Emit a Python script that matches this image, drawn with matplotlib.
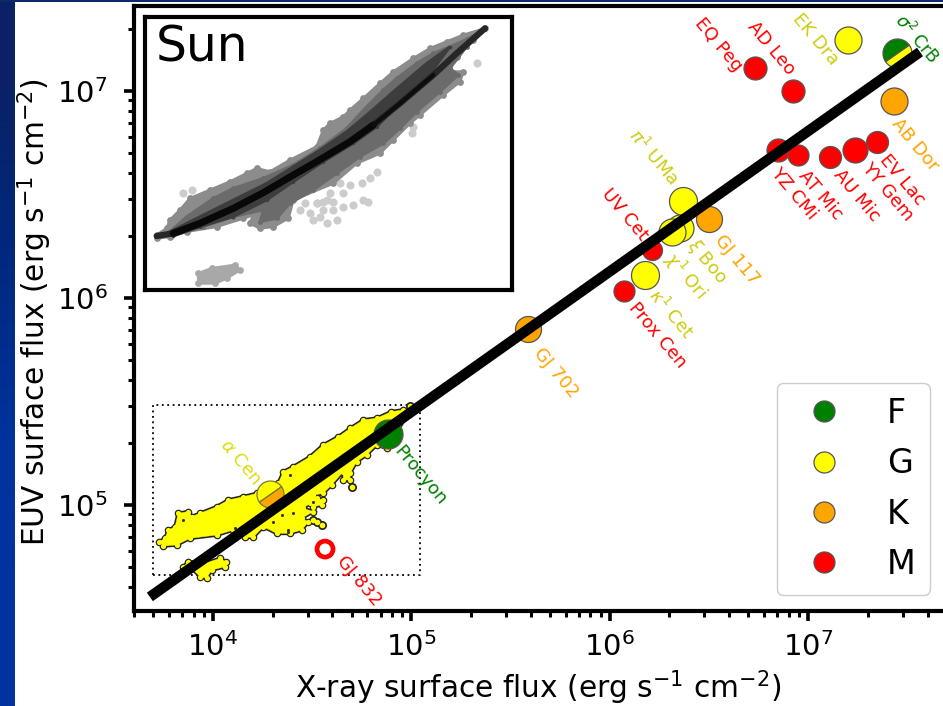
import numpy as np
import matplotlib
matplotlib.use("Agg")
import matplotlib.pyplot as plt
from matplotlib.markers import MarkerStyle
from matplotlib.transforms import Affine2D
from matplotlib.lines import Line2D
from matplotlib.ticker import LogLocator, NullFormatter

# ---------- data (log10 flux) ----------
star_names = ["EQ Peg", "AD Leo", "EK Dra", "AB Dor", "YZ CMi", "AT Mic", "AU Mic", "YY Gem", "EV Lac",
              r"$\pi^1$ UMa", "GJ 117", r"$\xi$ Boo", r"$\chi^1$ Ori", "UV Cet", r"$\kappa^1$ Cet",
              "Prox Cen", "GJ 702", "Procyon"]
star_lx = [6.732, 6.923, 7.201, 7.432, 6.848, 6.949, 7.110, 7.236, 7.347,
           6.369, 6.500, 6.354, 6.313, 6.213, 6.177, 6.072, 5.588, 4.882]
star_ly = [7.111, 7.000, 7.246, 6.952, 6.715, 6.691, 6.681, 6.715, 6.754,
           6.469, 6.382, 6.338, 6.319, 6.232, 6.111, 6.034, 5.850, 5.343]
star_type = ["M", "M", "G", "K", "M", "M", "M", "M", "M", "G", "K", "G", "G", "M", "G", "M", "K", "F"]
star_diam = [23, 23, 27, 27, 23, 21, 22, 25, 22, 28, 26, 27, 27, 20, 28, 21, 26, 29]
label_side = ["right", "right", "right", "left", "left", "left", "left", "left", "left",
              "right", "left", "left", "left", "right", "left", "left", "left", "left"]
label_off = [(-16, -1), (-1, 18), (-13, -23), (1, -20), (-4, -20), (4, -18), (7, -15), (10, -15), (6, -15),
             (-8, 18), (9, -18), (10, -14), (-4, -23), (-7, 12), (7, -17), (8, -14), (9, -21), (9, -14)]

type_names = ["F", "G", "K", "M"]
type_colors = {"F": "green", "G": "yellow", "K": "orange", "M": "red"}
label_colors = {"F": "green", "G": "#cccc11", "K": "orange", "M": "red"}

fit_lx = [3.682, 7.564]
fit_ly = [4.556, 7.188]

yellow_lx = [3.730, 3.758, 3.775, 3.809, 3.825, 3.876, 3.893, 3.935, 4.019, 4.077, 4.153, 4.220, 4.271, 4.329,
             4.355, 4.405, 4.489, 4.556, 4.632, 4.691, 4.758, 4.825, 4.900, 4.959, 4.985, 4.875, 4.825, 4.775,
             4.724, 4.691, 4.691, 4.657, 4.657, 4.598, 4.556, 4.506, 4.522, 4.556, 4.548, 4.506, 4.489, 4.455,
             4.506, 4.447, 4.481, 4.447, 4.388, 4.321, 4.254, 4.203, 4.161, 4.144, 4.103, 4.019, 3.884, 3.817,
             3.750]
yellow_ly = [4.823, 4.839, 4.879, 4.895, 4.960, 4.968, 4.944, 4.960, 4.992, 5.024, 5.040, 5.056, 5.097, 5.105,
             5.161, 5.185, 5.233, 5.290, 5.330, 5.370, 5.411, 5.419, 5.451, 5.459, 5.443, 5.274, 5.290, 5.242,
             5.209, 5.153, 5.121, 5.121, 5.161, 5.097, 5.056, 5.048, 5.032, 5.024, 5.000, 4.992, 5.008, 4.984,
             4.968, 4.936, 4.919, 4.879, 4.863, 4.863, 4.895, 4.844, 4.844, 4.863, 4.879, 4.855, 4.839, 4.807,
             4.802]
yellow2_lx = [3.851, 3.876, 3.960, 4.035, 4.066, 4.061, 3.993, 3.968, 3.935, 3.893]
yellow2_ly = [4.702, 4.726, 4.718, 4.742, 4.726, 4.702, 4.686, 4.646, 4.654, 4.694]
speck_lx = [4.699, 4.506, 4.523, 4.548, 4.993]
speck_ly = [5.089, 4.928, 4.919, 4.903, 5.478]
hole_lx = [4.346, 4.405, 4.304, 4.380, 4.506, 4.380, 4.388, 4.111, 3.851]
hole_ly = [4.952, 4.960, 4.919, 4.879, 5.016, 4.871, 5.145, 4.887, 4.928]
box_lx = [3.699, 5.043]
box_ly = [4.662, 5.483]

# Sun inset, in inset units
sun_outer_x = [470, 500, 510, 540, 570, 630, 690, 740, 770, 810, 870, 950, 970, 990, 1030, 1050, 1090, 1140, 1180,
               1240, 1290, 1340, 1390, 1455, 1420, 1370, 1340, 1390, 1380, 1330, 1260, 1230, 1180, 1140, 1070, 1000,
               880, 865, 820, 780, 750, 760, 730, 650, 560, 510, 470]
sun_outer_y = [705, 685, 660, 630, 595, 570, 545, 520, 505, 515, 480, 440, 390, 370, 350, 330, 295, 250, 215,
               175, 145, 125, 105, 85, 120, 170, 215, 215, 245, 285, 345, 370, 420, 460, 490, 550,
               600, 655, 680, 685, 670, 645, 655, 680, 695, 710, 715]
sun_inner_x = [510, 560, 640, 700, 790, 880, 960, 1040, 1100, 1150, 1190, 1250, 1300, 1350, 1400, 1455, 1400, 1350,
               1375, 1320, 1250, 1200, 1150, 1080, 1010, 940, 870, 830, 780, 790, 700, 610, 520]
sun_inner_y = [695, 650, 595, 565, 535, 495, 445, 385, 320, 270, 235, 190, 160, 140, 118, 88, 140, 205,
               225, 275, 335, 385, 430, 470, 520, 570, 610, 655, 665, 630, 650, 680, 705]
sun_dark_x = [500, 600, 700, 800, 880, 960, 1040, 1100, 1180, 1280, 1350, 1280, 1200, 1130, 1060, 970, 880, 800, 700, 600, 520]
sun_dark_y = [700, 650, 600, 550, 500, 450, 395, 345, 275, 190, 140, 235, 310, 380, 430, 485, 545, 600, 650, 680, 708]
sun_core_x = [470, 520, 600, 700, 790, 880, 950, 1050, 1120, 1200, 1300, 1370, 1455]
sun_core_y = [708, 700, 670, 625, 578, 525, 485, 425, 375, 310, 225, 160, 85]
sun_small_x = [595, 635, 705, 720, 680, 645, 595]
sun_small_y = [820, 805, 795, 810, 835, 850, 850]
sun_faint_x = [1130, 1110, 1085, 1050, 1020, 990, 1030, 970, 1000, 1030, 1060, 950, 1090, 1105,
               900, 930, 950, 980, 970, 1000, 940, 980, 1010, 915, 960, 1430, 1240, 1235, 550, 575]
sun_faint_y = [515, 535, 550, 555, 550, 580, 580, 605, 605, 620, 615, 610, 600, 605,
               630, 640, 610, 600, 630, 630, 660, 670, 660, 610, 650, 190, 380, 400, 580, 570]

# ---------- figure ----------
W, H = 943, 706
fig = plt.figure(figsize=(W / 100, H / 100), dpi=100, facecolor="white")

bg = fig.add_axes([0, 0, 1, 1], zorder=-5)
bg.set_axis_off()
grad = np.array([[[0.04, 0.13, 0.40]], [[0.0, 0.16, 0.50]], [[0.0, 0.2, 0.62]], [[0.0, 0.2, 0.63]]])
bg.imshow(grad, extent=(0, 15 / W, 0, 1), aspect="auto", interpolation="bilinear")
bg.fill_between([0, 1], [1 - 2 / H] * 2, [1, 1], color="#0b2a6e", lw=0)
bg.set_xlim(0, 1)
bg.set_ylim(0, 1)

L, R, T, B = 134, 943, 6, 611
ax = fig.add_axes([L / W, (H - B) / H, (R - L) / W, (B - T) / H])
ax.set_xscale("log")
ax.set_yscale("log")
ax.set_xlim(10 ** 3.602, 10 ** 7.68)
ax.set_ylim(10 ** 4.488, 10 ** 7.41)

for s in ["left", "bottom", "top"]:
    ax.spines[s].set_linewidth(3)
ax.spines["right"].set_visible(False)
ax.tick_params(which="major", length=7, width=2.6, labelsize=21)
ax.tick_params(which="minor", length=4, width=2.2)
ax.tick_params(axis="x", which="major", pad=8)
ax.tick_params(axis="y", which="major", pad=12)
for a in (ax.xaxis, ax.yaxis):
    a.set_major_locator(LogLocator(base=10, numticks=12))
    a.set_minor_locator(LogLocator(base=10, subs=np.arange(2, 10), numticks=12))
    a.set_minor_formatter(NullFormatter())
ax.set_xlabel(r"X-ray surface flux (erg s$^{-1}$ cm$^{-2}$)", fontsize=21.3)
ax.set_ylabel(r"EUV surface flux (erg s$^{-1}$ cm$^{-2}$)", fontsize=21.3)
ax.xaxis.set_label_coords(0.5, -0.095)
ax.yaxis.set_label_coords(-0.099, 0.494)


def P(v):
    return 10 ** np.asarray(v, float)


# solar cloud in yellow: dark outline underneath, yellow over it
for xs, ys in ((yellow_lx, yellow_ly), (yellow2_lx, yellow2_ly)):
    ax.fill(P(xs), P(ys), facecolor="#222222", edgecolor="#222222", lw=2.6, zorder=2)
    ax.scatter(P(xs), P(ys), s=30, color="#222222", lw=0, zorder=2)
ax.scatter(P(speck_lx), P(speck_ly), s=42, color="#222222", lw=0, zorder=2)
for xs, ys in ((yellow_lx, yellow_ly), (yellow2_lx, yellow2_ly)):
    ax.fill(P(xs), P(ys), facecolor="yellow", edgecolor="yellow", lw=0.3, zorder=2.1)
    ax.scatter(P(xs), P(ys), s=14, color="yellow", lw=0, zorder=2.1)
ax.scatter(P(speck_lx), P(speck_ly), s=16, color="yellow", lw=0, zorder=2.1)
ax.scatter(P(hole_lx), P(hole_ly), s=5, color="#333333", lw=0, zorder=2.2)

ax.plot(P([box_lx[0], box_lx[1], box_lx[1], box_lx[0], box_lx[0]]),
        P([box_ly[0], box_ly[0], box_ly[1], box_ly[1], box_ly[0]]),
        color="black", lw=1.3, ls=(0, (1, 2)), zorder=1)

# stars
for name, lx, ly, t, d, side, off in zip(star_names, star_lx, star_ly, star_type, star_diam, label_side, label_off):
    ax.scatter(P(lx), P(ly), s=(d * 0.72) ** 2, color=type_colors[t], edgecolor="#555555", lw=0.9, zorder=3)
    ax.annotate(name, (P(lx), P(ly)), xytext=(off[0] * 0.72, off[1] * 0.72), textcoords="offset points",
                color=label_colors[t], fontsize=13, rotation=-50, rotation_mode="anchor",
                ha=side, va="center", zorder=5, annotation_clip=False)

# two-colour stars
split = MarkerStyle("o", fillstyle="top", transform=Affine2D().rotate_deg(35))
ax.plot(P(7.448), P(7.184), marker=split, ms=29 * 0.72, mfc="green", mfcalt="yellow",
        mec="#555555", mew=0.9, ls="none", zorder=3)
ax.plot(P(4.287), P(5.053), marker=split, ms=27 * 0.72, mfc="yellow", mfcalt="orange",
        mec="#777733", mew=0.9, ls="none", zorder=3)
ax.annotate(r"$\sigma^2$ CrB", (P(7.448), P(7.184)), xytext=(1 * 0.72, 36 * 0.72), textcoords="offset points",
            color="green", fontsize=12.5, rotation=-50, rotation_mode="anchor", ha="left", va="center", zorder=5)
ax.annotate(r"$\alpha$ Cen", (P(4.287), P(5.053)), xytext=(-12 * 0.72, 12 * 0.72), textcoords="offset points",
            color="#dddd11", fontsize=13, rotation=-50, rotation_mode="anchor", ha="right", va="center", zorder=5)

# GJ 832 open ring
ax.scatter(P(4.565), P(4.787), s=(16 * 0.72) ** 2, facecolor="none", edgecolor="red", lw=3.4, zorder=3)
ax.annotate("GJ 832", (P(4.565), P(4.787)), xytext=(15 * 0.72, -9 * 0.72), textcoords="offset points",
            color="red", fontsize=13, rotation=-50, rotation_mode="anchor", ha="left", va="center", zorder=5)

# fit line
ax.plot(P(fit_lx), P(fit_ly), color="black", lw=7.5, solid_capstyle="butt", zorder=4)

# legend
handles = [Line2D([], [], ls="none", marker="o", ms=21 * 0.72, mfc=type_colors[t], mec="#555555", mew=0.9)
           for t in type_names]
ax.legend(handles, type_names, loc="lower right", bbox_to_anchor=(930 / W, (H - 595) / H),
          bbox_transform=fig.transFigure, fontsize=24, labelspacing=0.52, handletextpad=0.9,
          borderpad=0.42, borderaxespad=0, handlelength=2.0, framealpha=1, edgecolor="#cccccc", fancybox=True)

# inset
ins = fig.add_axes([145 / W, (H - 290) / H, (512 - 145) / W, (290 - 17) / H], zorder=6)
ins.set_xlim(435, 1536)
ins.set_ylim(870, 51)
ins.set_xticks([])
ins.set_yticks([])
for s in ins.spines.values():
    s.set_linewidth(3)


def cloud(x, y, grey, size):
    ins.fill(x, y, color=grey, lw=2)
    ins.scatter(x, y, s=size, color=grey, lw=0)


ins.scatter(sun_faint_x, sun_faint_y, s=34, color="0.8", lw=0)
cloud(sun_small_x, sun_small_y, "0.66", 24)
cloud(sun_outer_x, sun_outer_y, "0.55", 24)
cloud(sun_inner_x, sun_inner_y, "0.42", 12)
cloud(sun_dark_x, sun_dark_y, "0.24", 6)
ins.plot(sun_core_x, sun_core_y, color="0.15", lw=4.5, solid_capstyle="round")
ins.plot(sun_core_x[1:9], sun_core_y[1:9], color="0.03", lw=5, solid_capstyle="round")
ins.plot(sun_core_x[8:11], sun_core_y[8:11], color="0.05", lw=3, solid_capstyle="round")
ins.text(0.028, 0.975, "Sun", transform=ins.transAxes, fontsize=35, ha="left", va="top", color="black")

fig.savefig("out.png", dpi=100)
